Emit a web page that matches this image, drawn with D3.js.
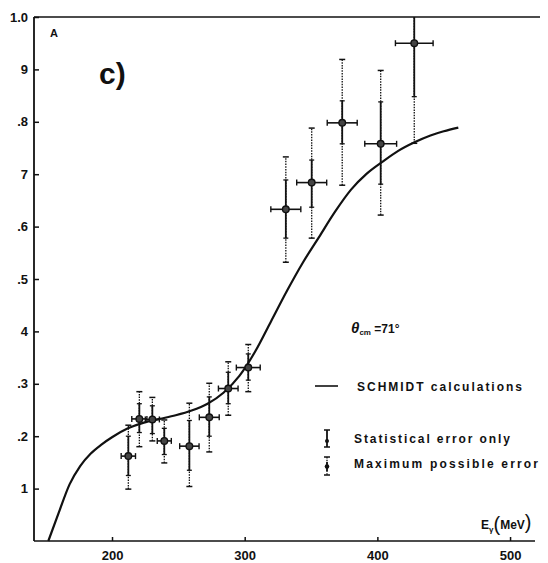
<!DOCTYPE html>
<html><head><meta charset="utf-8">
<script src="https://cdn.jsdelivr.net/npm/d3@7"></script>
<style>
body{margin:0;background:#fff;}
svg{display:block;}
text{font-family:"Liberation Sans",Arial,sans-serif;font-weight:bold;fill:#111;}
</style></head>
<body><svg id="c" width="548" height="563"></svg>
<script>
// ---- data ----
const yTickValues = [1.0, 0.9, 0.8, 0.7, 0.6, 0.5, 0.4, 0.3, 0.2, 0.1];
const yTickLabels = ["1.0", "9", ".8", "7", ".6", ".5", "4", ".3", ".2", "1"];
const xTickValues = [200, 300, 400, 500];

const energy  = [212.3, 220.6, 230.4, 239.4, 258.3, 273.3, 287.6, 302.7, 331.0, 350.5, 373.5, 402.5, 427.8];
const sigma   = [0.162, 0.233, 0.232, 0.191, 0.181, 0.236, 0.291, 0.331, 0.633, 0.684, 0.798, 0.758, 0.950];
const statLo  = [0.125, 0.207, 0.205, 0.165, 0.135, 0.200, 0.262, 0.307, 0.578, 0.637, 0.758, 0.681, 0.848];
const statHi  = [0.200, 0.262, 0.258, 0.215, 0.230, 0.275, 0.322, 0.357, 0.689, 0.727, 0.840, 0.838, 1.050];
const maxLo   = [0.099, 0.180, 0.191, 0.149, 0.104, 0.170, 0.240, 0.285, 0.532, 0.578, 0.679, 0.622, 0.759];
const maxHi   = [0.221, 0.285, 0.274, 0.231, 0.263, 0.301, 0.342, 0.375, 0.733, 0.788, 0.919, 0.898, 1.140];
const eErr    = [5.4, 5.7, 5.3, 5.3, 7.3, 7.5, 7.4, 9.0, 11.3, 11.3, 11.3, 12.0, 14.2];

const curveE = [152, 160, 168, 176, 184, 192, 200, 212, 224, 236, 248, 260, 272, 284, 296, 308, 320, 332, 344, 356, 368, 380, 392, 404, 416, 428, 440, 450, 461];
const curveV = [0, 0.055, 0.108, 0.143, 0.167, 0.184, 0.198, 0.215, 0.226, 0.233, 0.240, 0.249, 0.262, 0.283, 0.315, 0.362, 0.420, 0.478, 0.532, 0.580, 0.628, 0.670, 0.701, 0.724, 0.745, 0.761, 0.774, 0.782, 0.789];

// ---- scales ----
const svg = d3.select("#c");
const x = d3.scaleLinear().domain([141.2, 518.8]).range([34, 535]);
const y = d3.scaleLinear().domain([0, 1]).range([541, 17]);
const ink = "#111";
const cy = v => y(Math.min(v, 1));

// ---- axes ----
const ya = svg.append("g").attr("transform", `translate(${x(141.2)},0)`)
  .call(d3.axisLeft(y).tickValues(yTickValues).tickSize(-5).tickPadding(6)
    .tickFormat((d, i) => yTickLabels[i]));
ya.select(".domain").remove();
ya.selectAll("line").attr("stroke", ink).attr("stroke-width", 1.5);
ya.selectAll("text").attr("font-size", 13).attr("fill", ink);
svg.append("line").attr("x1", x(141.2)).attr("x2", x(141.2)).attr("y1", y(1)).attr("y2", y(0))
  .attr("stroke", ink).attr("stroke-width", 1.8);

const xa = svg.append("g").attr("transform", `translate(0,${y(0)})`)
  .call(d3.axisBottom(x).tickValues(xTickValues).tickSize(-4).tickPadding(10).tickFormat(d3.format("d")));
xa.select(".domain").remove();
xa.selectAll("line").attr("stroke", ink).attr("stroke-width", 1.5);
xa.selectAll("text").attr("font-size", 13).attr("fill", ink);
svg.append("line").attr("x1", x(141.2)).attr("x2", x(518.8)).attr("y1", y(0)).attr("y2", y(0))
  .attr("stroke", ink).attr("stroke-width", 1.6);
// top border
svg.append("line").attr("x1", x(141.2)).attr("x2", 540).attr("y1", y(1)).attr("y2", y(1))
  .attr("stroke", ink).attr("stroke-width", 1.5);

// ---- curve ----
svg.append("path")
  .datum(curveE.map((e, i) => [e, curveV[i]]))
  .attr("d", d3.line().x(d => x(d[0])).y(d => y(d[1])).curve(d3.curveMonotoneX))
  .attr("fill", "none").attr("stroke", ink).attr("stroke-width", 2.2);

// ---- data points ----
const pts = energy.map((e, i) => ({e, v: sigma[i], sl: statLo[i], sh: statHi[i], ml: maxLo[i], mh: maxHi[i], ee: eErr[i]}));
const g = svg.append("g");
pts.forEach(p => {
  const px = x(p.e), py = y(p.v);
  // max error (dotted)
  g.append("line").attr("x1", px).attr("x2", px).attr("y1", cy(p.ml)).attr("y2", cy(p.mh))
    .attr("stroke", ink).attr("stroke-width", 1.3).attr("stroke-dasharray", "1.5,1.2");
  [p.ml, p.mh].forEach(v => {
    if (v <= 1) g.append("line").attr("x1", px - 3).attr("x2", px + 3).attr("y1", y(v)).attr("y2", y(v))
      .attr("stroke", ink).attr("stroke-width", 1.5);
  });
  // statistical error (solid)
  g.append("line").attr("x1", px).attr("x2", px).attr("y1", cy(p.sl)).attr("y2", cy(p.sh))
    .attr("stroke", ink).attr("stroke-width", 1.8);
  [p.sl, p.sh].forEach(v => {
    if (v <= 1) g.append("line").attr("x1", px - 2.5).attr("x2", px + 2.5).attr("y1", y(v)).attr("y2", y(v))
      .attr("stroke", ink).attr("stroke-width", 1.3);
  });
  // energy error
  const x0 = x(p.e - p.ee), x1 = x(p.e + p.ee);
  g.append("line").attr("x1", x0).attr("x2", x1).attr("y1", py).attr("y2", py)
    .attr("stroke", ink).attr("stroke-width", 1.6);
  [x0, x1].forEach(xx => g.append("line").attr("x1", xx).attr("x2", xx).attr("y1", py - 3).attr("y2", py + 3)
    .attr("stroke", ink).attr("stroke-width", 1.4));
  g.append("circle").attr("cx", px).attr("cy", py).attr("r", 3.3)
    .attr("fill", "#444").attr("stroke", ink).attr("stroke-width", 1.4);
});

// ---- labels ----
svg.append("text").attr("x", 50).attr("y", 37).attr("font-size", 11).text("A");
svg.append("text").attr("x", 99).attr("y", 84).attr("font-size", 30).text("c)");

const th = svg.append("text").attr("x", 351).attr("y", 333).attr("font-size", 12);
th.append("tspan").attr("font-style", "italic").attr("font-size", 15).text("θ");
th.append("tspan").attr("font-size", 8).attr("dy", 2).text("cm");
th.append("tspan").attr("dy", -2).text(" =71°");

// legend
svg.append("line").attr("x1", 315).attr("x2", 338).attr("y1", 386).attr("y2", 386)
  .attr("stroke", ink).attr("stroke-width", 1.6);
svg.append("text").attr("x", 357).attr("y", 391).attr("font-size", 12)
  .attr("textLength", 165).attr("lengthAdjust", "spacing").text("SCHMIDT calculations");

// stat icon
const sx = 327;
svg.append("line").attr("x1", sx).attr("x2", sx).attr("y1", 430).attr("y2", 447).attr("stroke", ink).attr("stroke-width", 1.8);
[430, 447].forEach(yy => svg.append("line").attr("x1", sx - 3).attr("x2", sx + 3).attr("y1", yy).attr("y2", yy).attr("stroke", ink).attr("stroke-width", 1.5));
svg.append("circle").attr("cx", sx).attr("cy", 441).attr("r", 2).attr("fill", ink);
svg.append("text").attr("x", 354).attr("y", 443).attr("font-size", 12)
  .attr("textLength", 156).attr("lengthAdjust", "spacing").text("Statistical error only");

// max icon
svg.append("line").attr("x1", sx).attr("x2", sx).attr("y1", 457).attr("y2", 475).attr("stroke", ink).attr("stroke-width", 1.3).attr("stroke-dasharray", "1.5,1.2");
svg.append("line").attr("x1", sx).attr("x2", sx).attr("y1", 462).attr("y2", 471).attr("stroke", ink).attr("stroke-width", 1.8);
[457, 475].forEach(yy => svg.append("line").attr("x1", sx - 3).attr("x2", sx + 3).attr("y1", yy).attr("y2", yy).attr("stroke", ink).attr("stroke-width", 1.5));
svg.append("circle").attr("cx", sx).attr("cy", 466.5).attr("r", 2.3).attr("fill", ink);
svg.append("text").attr("x", 354).attr("y", 468).attr("font-size", 12)
  .attr("textLength", 184).attr("lengthAdjust", "spacing").text("Maximum  possible error");

// x axis title
const xt = svg.append("text").attr("x", 481).attr("y", 529).attr("font-size", 12);
xt.append("tspan").text("E");
xt.append("tspan").attr("font-size", 8).attr("dy", 3).text("γ");
xt.append("tspan").attr("font-size", 20).attr("dy", -1).attr("font-weight", "normal").text("(");
xt.append("tspan").attr("font-size", 12).attr("dy", -2).text("MeV");
xt.append("tspan").attr("font-size", 20).attr("dy", 0).attr("font-weight", "normal").text(")");
</script></body></html>
